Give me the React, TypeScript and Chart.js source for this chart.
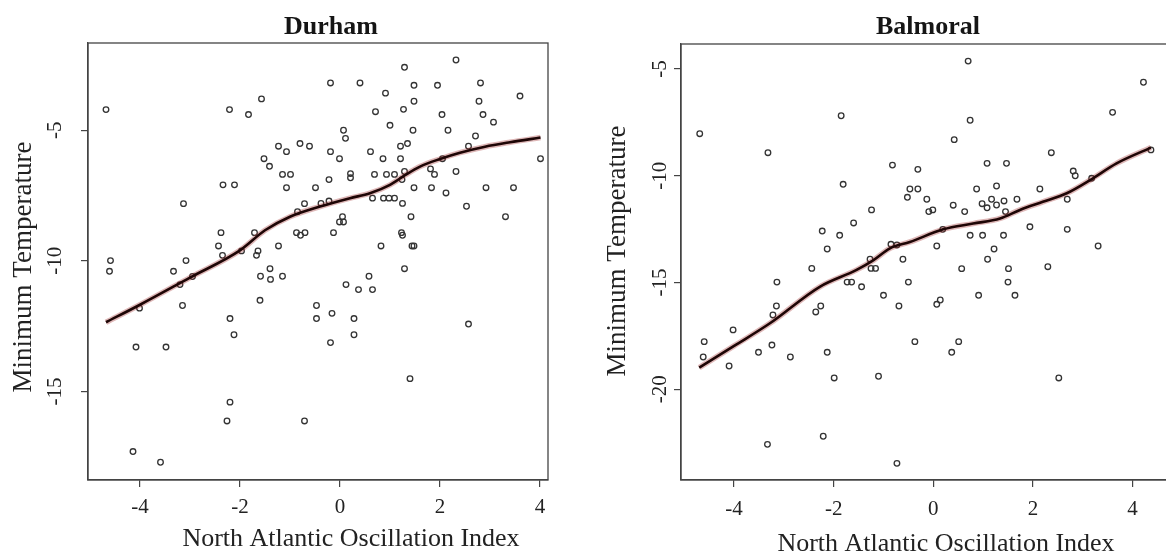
import { useEffect, useRef } from 'react';
import { Chart, registerables } from 'chart.js';

Chart.register(...registerables);

const SERIF = '"Liberation Serif", "Times New Roman", serif';

// ---- Durham: NAO index vs. minimum temperature ----
const durhamNao = [
  -4.68, -2.21, -1.83, -1.57, -1.23, -1.07, -0.80, -0.61, -1.52, -1.41,
  -1.15, -0.99, -1.07, -0.49, -2.34, -2.11, -3.13, -0.71, -0.85, -2.38,
  -1.71, -0.87, -0.79, -0.70, -2.43, -1.97, -1.64, -1.67, -1.23, -2.35,
  -4.59, -3.08, 2.32, 1.29, -0.19, 0.40, 1.48, 1.95, 2.81, 3.60,
  0.91, 1.48, 2.78, 0.71, 1.27, 2.04, 2.86, 3.07, 1.00, 0.07,
  0.11, 1.46, 2.16, 2.71, -0.19, -0.01, 0.61, 0.86, 1.21, 1.35,
  1.21, 2.57, 2.05, 4.01, -0.22, 0.21, 0.21, 0.69, 0.93, 1.09,
  1.29, 1.24, 1.81, 1.89, 2.32, 1.48, 1.83, 2.12, 2.92, 3.47,
  -0.38, -0.22, 0.65, 0.87, 0.98, 1.09, 1.25, 2.53, 1.42, 3.31,
  0.05, -0.01, 0.07, -0.13, 1.23, 1.25, 0.82, 1.44, 1.48, -4.61,
  -3.33, -3.20, -2.95, -4.01, -3.15, -1.59, -1.40, -1.39, -1.15, -1.60,
  -0.47, -0.47, -2.20, -2.12, -4.08, -3.48, -2.20, -2.26, -0.71, -4.14,
  -3.59, -0.16, -0.19, 0.12, 0.37, 0.58, 0.65, 0.28, 0.28, 1.29,
  2.57, 1.40,
];
const durhamTmin = [
  -4.21, -4.21, -4.40, -3.80, -5.61, -5.82, -5.51, -5.61, -6.09, -6.38,
  -6.69, -6.69, -7.20, -7.20, -7.09, -7.09, -7.81, -7.81, -8.12, -8.92,
  -8.92, -8.92, -9.02, -8.92, -9.43, -9.62, -9.62, -9.79, -9.43, -9.79,
  -9.99, -9.99, -2.31, -2.59, -3.19, -3.19, -3.28, -3.28, -3.19, -3.69,
  -3.58, -3.89, -3.89, -4.29, -4.20, -4.40, -4.40, -4.69, -4.81, -5.00,
  -5.31, -5.00, -5.00, -5.22, -5.82, -6.09, -5.82, -6.09, -5.61, -5.51,
  -6.09, -5.61, -6.09, -6.09, -6.89, -6.66, -6.82, -6.69, -6.69, -6.69,
  -6.58, -6.89, -6.48, -6.69, -6.58, -7.20, -7.20, -7.40, -7.20, -7.20,
  -7.80, -7.71, -7.60, -7.60, -7.60, -7.60, -7.80, -7.91, -8.31, -8.31,
  -8.31, -8.51, -8.51, -8.92, -8.92, -9.02, -9.43, -9.43, -9.43, -10.40,
  -10.40, -10.91, -10.60, -11.81, -11.71, -10.59, -10.30, -10.71, -10.59, -11.51,
  -11.71, -12.21, -12.21, -12.83, -13.30, -13.30, -15.41, -16.13, -16.13, -17.30,
  -17.71, -12.01, -13.13, -10.91, -11.10, -10.59, -11.10, -12.21, -12.83, -10.30,
  -12.42, -14.51,
];
// smoothed (loess) trend for Durham
const durhamTrendNao = [-4.68, -4.0, -3.0, -2.0, -1.5, -1.0, -0.4, 0.2, 0.6, 1.0, 1.3, 1.6, 2.0, 2.4, 2.9, 3.4, 4.01];
const durhamTrendTmin = [-12.35, -11.68, -10.64, -9.6, -8.83, -8.31, -7.92, -7.6, -7.41, -7.09, -6.72, -6.39, -6.1, -5.86, -5.63, -5.46, -5.28];
const durhamYTicks = [-15, -10, -5];

// ---- Balmoral: NAO index vs. minimum temperature ----
const balmoralNao = [
  -4.69, -3.32, -1.85, -0.82, -0.31, -1.81, -0.47, -0.31, -0.52, -1.24,
  -1.60, -2.23, -1.88, -2.13, -0.85, -0.73, -0.61, -1.27, -2.44, -1.25,
  -1.16, 0.70, 4.22, 3.60, 0.74, 0.42, 2.37, 4.37, 1.08, 1.47,
  2.81, 2.85, 3.18, 0.87, 1.27, 2.14, -0.13, 0.40, 0.63, 0.98,
  1.17, 1.08, 1.27, 1.42, 1.45, 1.68, 2.69, -0.09, -0.01, 0.19,
  0.74, 0.99, 1.41, 1.94, 2.69, 0.07, 1.22, 3.31, 1.09, 0.57,
  1.51, 2.30, -1.73, -1.64, -1.44, -3.14, -0.50, -1.00, -0.69, -0.37,
  -3.15, -3.22, -2.36, -2.26, -4.02, -4.60, -4.62, -4.10, -3.51, -3.24,
  -2.87, -2.13, -1.99, -1.10, -3.33, -2.21, -0.73, 1.50, 0.91, 1.64,
  0.07, 0.14, 0.37, 0.51, 2.52,
];
const balmoralTmin = [
  -8.03, -8.92, -7.19, -9.50, -9.70, -10.40, -10.62, -10.62, -11.01, -11.60,
  -12.21, -12.59, -12.79, -13.43, -13.21, -13.24, -13.91, -13.91, -14.34, -14.34,
  -14.34, -4.63, -5.62, -7.03, -7.40, -8.31, -8.92, -8.79, -9.42, -9.42,
  -9.78, -10.00, -10.12, -10.62, -10.48, -10.62, -11.10, -11.38, -11.68, -11.31,
  -11.10, -11.50, -11.37, -11.18, -11.68, -11.10, -11.10, -11.68, -11.60, -12.51,
  -12.79, -12.79, -12.79, -12.39, -12.51, -13.29, -13.43, -13.29, -13.91, -14.35,
  -14.35, -14.26, -14.98, -14.98, -15.20, -14.98, -14.98, -15.60, -16.10, -17.77,
  -16.10, -16.52, -16.38, -16.10, -17.22, -17.77, -18.49, -18.91, -18.27, -17.93,
  -18.49, -18.27, -19.47, -19.39, -22.58, -22.20, -23.47, -14.98, -15.60, -15.60,
  -16.02, -15.82, -18.27, -17.77, -19.47,
];
// smoothed (loess) trend for Balmoral
const balmoralTrendNao = [-4.70, -4.0, -3.28, -2.28, -1.54, -1.20, -0.87, -0.47, 0.2, 0.8, 1.34, 1.74, 2.2, 2.68, 3.15, 3.68, 4.37];
const balmoralTrendTmin = [-18.99, -17.97, -16.91, -15.2, -14.41, -13.95, -13.4, -13.1, -12.51, -12.24, -12.0, -11.6, -11.22, -10.82, -10.2, -9.42, -8.68];
const balmoralYTicks = [-20, -15, -10, -5];

const xTicks = [-4, -2, 0, 2, 4];

const X_TITLE = 'North Atlantic Oscillation Index';
const Y_TITLE = 'Minimum Temperature';

type Panel = {
  title: string;
  nao: number[];
  tmin: number[];
  trendNao: number[];
  trendTmin: number[];
  yTicks: number[];
  xMin: number;
  xMax: number;
  yMin: number;
  yMax: number;
  // layout (canvas-relative pixels)
  left: number;
  width: number;
  padTop: number;
  padRight: number;
  yAxisWidth: number;
  yTickPad: number;
  xTickPad: number;
  titleX: number;
  xTitleX: number;
  xTitleBase: number;
  yTitleBase: number;
  yTitleY: number;
};

const PANELS: Panel[] = [
  {
    title: 'Durham',
    nao: durhamNao,
    tmin: durhamTmin,
    trendNao: durhamTrendNao,
    trendTmin: durhamTrendTmin,
    yTicks: durhamYTicks,
    xMin: -5.04,
    xMax: 4.16,
    yMin: -18.39,
    yMax: -1.66,
    left: 0,
    width: 583,
    padTop: 43,
    padRight: 35,
    yAxisWidth: 88,
    yTickPad: 12,
    xTickPad: 8,
    titleX: 331,
    xTitleX: 351,
    xTitleBase: 546,
    yTitleBase: 31,
    yTitleY: 267,
  },
  {
    title: 'Balmoral',
    nao: balmoralNao,
    tmin: balmoralTmin,
    trendNao: balmoralTrendNao,
    trendTmin: balmoralTrendTmin,
    yTicks: balmoralYTicks,
    xMin: -5.066,
    xMax: 4.733,
    yMin: -24.25,
    yMax: -3.829,
    left: 583,
    width: 600,
    padTop: 44,
    padRight: 14,
    yAxisWidth: 98,
    yTickPad: 0,
    xTickPad: 10,
    titleX: 345,
    xTitleX: 363,
    xTitleBase: 551,
    yTitleBase: 42,
    yTitleY: 251,
  },
];

const HEIGHT = 552;
const AXIS_COLOR = '#444';

// Draws the R-style box around the plot region plus the main and axis titles.
const panelDecor = {
  id: 'panelDecor',
  afterDraw(chart: any, _args: any, opts: any) {
    const { ctx, chartArea: a } = chart;
    ctx.save();
    ctx.strokeStyle = AXIS_COLOR;
    ctx.lineWidth = 1.3;
    ctx.strokeRect(a.left, a.top, a.right - a.left, a.bottom - a.top);

    ctx.fillStyle = '#151515';
    ctx.textAlign = 'center';
    ctx.textBaseline = 'alphabetic';
    ctx.font = `bold 26px ${SERIF}`;
    ctx.fillText(opts.title, opts.titleX, 34);

    ctx.fillStyle = '#222';
    ctx.font = `26px ${SERIF}`;
    ctx.fillText(X_TITLE, opts.xTitleX, opts.xTitleBase);

    ctx.translate(opts.yTitleBase, opts.yTitleY);
    ctx.rotate(-Math.PI / 2);
    ctx.font = `27px ${SERIF}`;
    ctx.fillText(Y_TITLE, 0, 0);
    ctx.restore();
  },
};

function makeConfig(p: Panel): any {
  const points = p.nao.map((x, i) => ({ x, y: p.tmin[i] }));
  const trend = p.trendNao.map((x, i) => ({ x, y: p.trendTmin[i] }));
  const tickGrid = {
    display: true,
    drawOnChartArea: false,
    drawTicks: true,
    tickLength: 7,
    color: AXIS_COLOR,
    lineWidth: 1.2,
  };
  return {
    type: 'scatter',
    data: {
      datasets: [
        {
          type: 'line',
          data: trend,
          borderColor: '#1e0606',
          borderWidth: 2.6,
          pointRadius: 0,
          cubicInterpolationMode: 'monotone',
          fill: false,
          order: 0,
        },
        {
          type: 'line',
          data: trend,
          borderColor: 'rgba(160, 50, 50, 0.35)',
          borderWidth: 5.5,
          pointRadius: 0,
          cubicInterpolationMode: 'monotone',
          fill: false,
          order: 1,
        },
        {
          type: 'scatter',
          data: points,
          pointStyle: 'circle',
          pointRadius: 2.8,
          borderWidth: 1.3,
          borderColor: '#333',
          backgroundColor: 'rgba(0,0,0,0)',
          order: 2,
        },
      ],
    },
    options: {
      responsive: false,
      animation: false,
      devicePixelRatio: 1,
      layout: { padding: { top: p.padTop, right: p.padRight, bottom: 0, left: 0 } },
      plugins: {
        legend: { display: false },
        tooltip: { enabled: false },
        title: { display: false },
        panelDecor: {
          title: p.title,
          titleX: p.titleX,
          xTitleX: p.xTitleX,
          xTitleBase: p.xTitleBase,
          yTitleBase: p.yTitleBase,
          yTitleY: p.yTitleY,
        },
      },
      scales: {
        x: {
          type: 'linear',
          position: 'bottom',
          min: p.xMin,
          max: p.xMax,
          afterBuildTicks: (s: any) => {
            s.ticks = xTicks.map((value) => ({ value }));
          },
          afterFit: (s: any) => {
            s.height = HEIGHT - 480;
          },
          grid: tickGrid,
          border: { display: true, color: AXIS_COLOR, width: 1.3 },
          ticks: {
            autoSkip: false,
            maxRotation: 0,
            padding: p.xTickPad,
            color: '#222',
            font: { family: SERIF, size: 21 },
            callback: (v: number) => String(v),
          },
        },
        y: {
          type: 'linear',
          position: 'left',
          min: p.yMin,
          max: p.yMax,
          afterBuildTicks: (s: any) => {
            s.ticks = p.yTicks.map((value) => ({ value }));
          },
          afterFit: (s: any) => {
            s.width = p.yAxisWidth;
          },
          grid: tickGrid,
          border: { display: true, color: AXIS_COLOR, width: 1.3 },
          ticks: {
            autoSkip: false,
            minRotation: 90,
            maxRotation: 90,
            crossAlign: 'center',
            padding: p.yTickPad,
            color: '#222',
            font: { family: SERIF, size: 21 },
            callback: (v: number) => String(v),
          },
        },
      },
    },
    plugins: [panelDecor],
  };
}

function PanelChart({ panel }: { panel: Panel }) {
  const ref = useRef<HTMLCanvasElement | null>(null);
  useEffect(() => {
    if (!ref.current) return;
    const chart = new Chart(ref.current, makeConfig(panel));
    return () => chart.destroy();
  }, [panel]);
  return (
    <canvas
      ref={ref}
      width={panel.width}
      height={HEIGHT}
      style={{
        position: 'absolute',
        left: panel.left,
        top: 0,
        width: panel.width,
        height: HEIGHT,
      }}
    />
  );
}

export default function App() {
  return (
    <div
      style={{
        position: 'fixed',
        left: 0,
        top: 0,
        width: 1166,
        height: HEIGHT,
        overflow: 'hidden',
        background: '#ffffff',
      }}
    >
      {PANELS.map((p) => (
        <PanelChart key={p.title} panel={p} />
      ))}
    </div>
  );
}
